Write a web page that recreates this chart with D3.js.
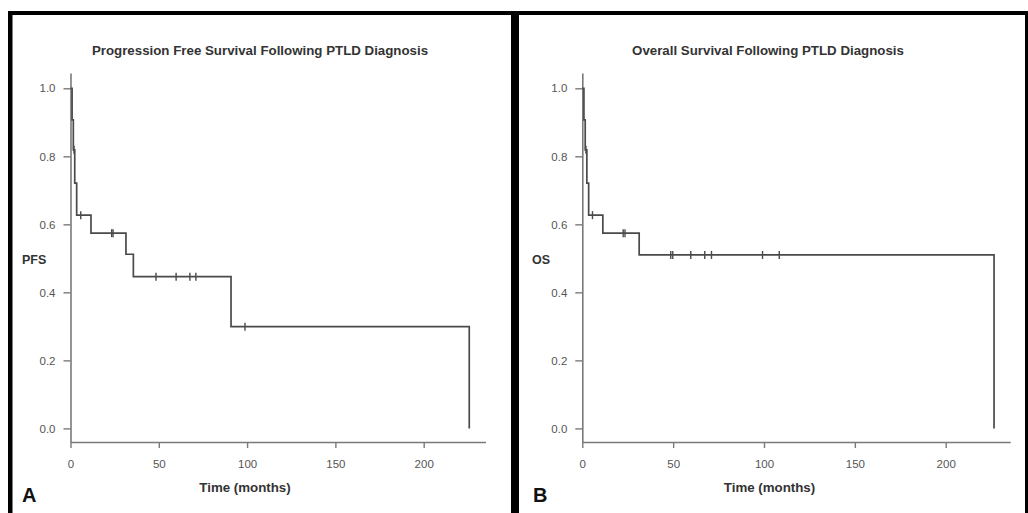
<!DOCTYPE html>
<html>
<head>
<meta charset="utf-8">
<script src="https://cdn.jsdelivr.net/npm/d3@7"></script>
<style>
  html, body { margin: 0; padding: 0; background: #fff; }
  svg { display: block; }
  text { font-family: "Liberation Sans", Arial, sans-serif; }
</style>
</head>
<body>
<svg id="chart" width="1028" height="513"></svg>
<script>
// ---------------- data ----------------
const yTicks = [0.0, 0.2, 0.4, 0.6, 0.8, 1.0];
const xTicks = [0, 50, 100, 150, 200];

// Panel A: Progression free survival
const pfsEventTimes = [0.9, 1.6, 2.4, 3.5, 11.6, 31.4, 35.6, 90.9, 225.8];
const pfsSurvival   = [0.907, 0.819, 0.721, 0.627, 0.574, 0.512, 0.446, 0.299, 0.0];
const pfsCensorTimes = [2.0, 5.8, 23.3, 24.1, 48.4, 59.8, 67.6, 71.0, 98.8];

// Panel B: Overall survival
const osEventTimes = [0.9, 1.6, 2.5, 3.5, 11.3, 31.3, 226.6];
const osSurvival   = [0.907, 0.819, 0.721, 0.627, 0.574, 0.510, 0.0];
const osCensorTimes = [2.0, 5.6, 22.5, 23.5, 48.7, 49.8, 59.7, 67.4, 71.1, 99.2, 108.4];

const titles = ["Progression Free Survival Following PTLD Diagnosis", "Overall Survival Following PTLD Diagnosis"];
const yLabels = ["PFS", "OS"];
const panelLetters = ["A", "B"];
const xLabel = "Time (months)";

// ---------------- layout ----------------
const svg = d3.select("#chart");
svg.append("rect").attr("width", 1028).attr("height", 513).attr("fill", "#fff");

const panels = [
  { events: pfsEventTimes, surv: pfsSurvival, censor: pfsCensorTimes,
    x0: 70.5, x1: 485.5, xMax: 235, titleX: 260, yLabX: 22, letterX: 22, xLabX: 245 },
  { events: osEventTimes, surv: osSurvival, censor: osCensorTimes,
    x0: 582.3, x1: 1010.2, xMax: 235.5, titleX: 768, yLabX: 532, letterX: 533, xLabX: 769.5 }
];

const axisColor = "#7a7a7a";
const lineColor = "#4a4a4a";
const labelColor = "#555";

panels.forEach((p, i) => {
  const g = svg.append("g");
  const x = d3.scaleLinear().domain([0, p.xMax]).range([p.x0, p.x1]);
  const y = d3.scaleLinear().domain([-0.04, 1.045]).range([442, 73]);

  // y axis
  const yAx = g.append("g").attr("transform", `translate(${p.x0},0)`)
    .call(d3.axisLeft(y).tickValues(yTicks).tickFormat(d3.format(".1f")).tickSize(7).tickSizeOuter(0).tickPadding(8));
  // x axis
  const xAx = g.append("g").attr("transform", `translate(0,442)`)
    .call(d3.axisBottom(x).tickValues(xTicks).tickSize(6).tickSizeOuter(0).tickPadding(12));
  [yAx, xAx].forEach(ax => {
    ax.select(".domain").attr("stroke", axisColor).attr("stroke-width", 1.6);
    ax.selectAll(".tick line").attr("stroke", axisColor).attr("stroke-width", 1.4);
    ax.selectAll(".tick text").attr("fill", labelColor)
      .style("font-family", "'Liberation Sans', Arial, sans-serif").style("font-size", "11.5px");
  });

  // KM step curve
  const pts = [[0, 1]].concat(p.events.map((t, k) => [t, p.surv[k]]));
  const line = d3.line().x(d => x(d[0])).y(d => y(d[1])).curve(d3.curveStepAfter);
  g.append("path").datum(pts).attr("d", line)
    .attr("fill", "none").attr("stroke", lineColor).attr("stroke-width", 1.7);

  // censor marks
  const survAt = t => {
    let s = 1;
    p.events.forEach((e, k) => { if (e <= t) s = p.surv[k]; });
    return s;
  };
  g.selectAll("line.censor").data(p.censor).enter().append("line")
    .attr("class", "censor")
    .attr("x1", d => x(d)).attr("x2", d => x(d))
    .attr("y1", d => y(survAt(d)) - 4).attr("y2", d => y(survAt(d)) + 4)
    .attr("stroke", lineColor).attr("stroke-width", 1.4);

  // texts
  svg.append("text").attr("x", p.titleX).attr("y", 55).attr("text-anchor", "middle")
    .attr("font-weight", "bold").attr("font-size", 13.3).attr("fill", "#333").text(titles[i]);
  svg.append("text").attr("x", p.yLabX).attr("y", 264)
    .attr("font-weight", "bold").attr("font-size", 12.5).attr("fill", "#333").text(yLabels[i]);
  svg.append("text").attr("x", p.xLabX).attr("y", 492).attr("text-anchor", "middle")
    .attr("font-weight", "bold").attr("font-size", 13.3).attr("fill", "#333").text(xLabel);
  svg.append("text").attr("x", p.letterX).attr("y", 502)
    .attr("font-weight", "bold").attr("font-size", 20).attr("fill", "#111").text(panelLetters[i]);
});

// frame borders
const frame = svg.append("g").attr("fill", "#000");
frame.append("rect").attr("x", 8).attr("y", 11).attr("width", 1020).attr("height", 4);
frame.append("rect").attr("x", 8).attr("y", 11).attr("width", 4.5).attr("height", 502);
frame.append("rect").attr("x", 511).attr("y", 11).attr("width", 8).attr("height", 502);
frame.append("rect").attr("x", 1025).attr("y", 11).attr("width", 3).attr("height", 502);
</script>
</body>
</html>
